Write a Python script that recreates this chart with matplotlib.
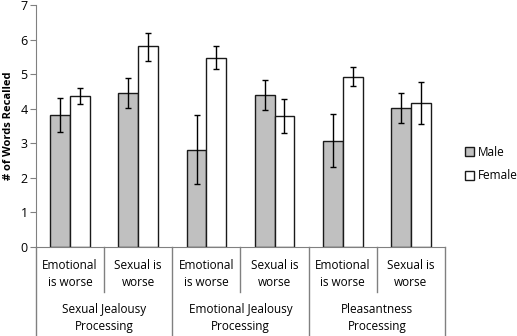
import matplotlib
matplotlib.use("Agg")
import matplotlib.pyplot as plt
import matplotlib.transforms as mtransforms
from matplotlib.patches import Patch

plt.rcParams['font.family'] = ['Open Sans', 'DejaVu Sans']

conditions = ["Emotional\nis worse", "Sexual is\nworse"] * 3
groups = ["Sexual Jealousy\nProcessing", "Emotional Jealousy\nProcessing", "Pleasantness\nProcessing"]
male = [3.82, 4.45, 2.82, 4.40, 3.08, 4.03]
male_lo = [3.33, 4.01, 1.81, 3.96, 2.30, 3.60]
male_hi = [4.30, 4.88, 3.83, 4.84, 3.86, 4.46]
female = [4.37, 5.80, 5.48, 3.80, 4.92, 4.16]
female_lo = [4.13, 5.38, 5.15, 3.30, 4.65, 3.56]
female_hi = [4.60, 6.20, 5.80, 4.27, 5.20, 4.76]

fig = plt.figure(figsize=(5.17, 3.36), dpi=100)
ax = fig.add_axes([36/517, (336-247)/336, (445-36)/517, 242/336])

n = len(male)
x = list(range(n))
w = 0.29
mx = [i - w/2 for i in x]
fx = [i + w/2 for i in x]
ax.bar(mx, male, width=w, color='#C0C0C0', edgecolor='#1a1a1a', linewidth=1.0, label='Male', zorder=2)
ax.bar(fx, female, width=w, color='white', edgecolor='#1a1a1a', linewidth=1.0, label='Female', zorder=2)
ax.errorbar(mx, male, yerr=[[m - l for m, l in zip(male, male_lo)], [h - m for m, h in zip(male, male_hi)]],
            fmt='none', ecolor='black', elinewidth=1.0, capsize=2.5, capthick=1.0, zorder=3)
ax.errorbar(fx, female, yerr=[[m - l for m, l in zip(female, female_lo)], [h - m for m, h in zip(female, female_hi)]],
            fmt='none', ecolor='black', elinewidth=1.0, capsize=2.5, capthick=1.0, zorder=3)

ax.set_xlim(-0.5, n - 0.5)
ax.set_ylim(0, 7)
ax.set_yticks(range(0, 8))
ax.set_xticks([])
for s in ['top', 'right']:
    ax.spines[s].set_visible(False)
for s in ['left', 'bottom']:
    ax.spines[s].set_color('#808080')
ax.tick_params(axis='y', colors='#808080', labelcolor='black', labelsize=9, length=4, direction='out', pad=2)
ax.set_ylabel('# of Words Recalled', fontsize=8, fontweight='bold')
ax.yaxis.set_label_coords(-22/409, 0.5)

trans = mtransforms.blended_transform_factory(ax.transData, ax.transAxes)
axh = 242
def yax(py):
    return (247 - py) / axh

for i, c in enumerate(conditions):
    ax.text(i, yax(274), c, transform=trans, ha='center', va='center', fontsize=8.5, linespacing=1.35)
for g, gname in enumerate(groups):
    ax.text(2*g + 0.5, yax(318), gname, transform=trans, ha='center', va='center', fontsize=8.5, linespacing=1.35)

lc = '#808080'
for b in range(n + 1):
    xb = b - 0.5
    if b % 2 == 0:
        y1 = yax(336)
    else:
        y1 = yax(292)
    ax.plot([xb, xb], [0, y1], transform=trans, color=lc, lw=1.0, clip_on=False)

handles = [Patch(facecolor='#C0C0C0', edgecolor='#1a1a1a', label='Male'),
           Patch(facecolor='white', edgecolor='#1a1a1a', label='Female')]
fig.legend(handles=handles, loc='center left', bbox_to_anchor=(460/517, 1 - 164/336), frameon=False,
           fontsize=8.5, handlelength=0.8, handleheight=0.8, handletextpad=0.3, labelspacing=0.9, borderaxespad=0)

fig.savefig('out.png', dpi=100)
